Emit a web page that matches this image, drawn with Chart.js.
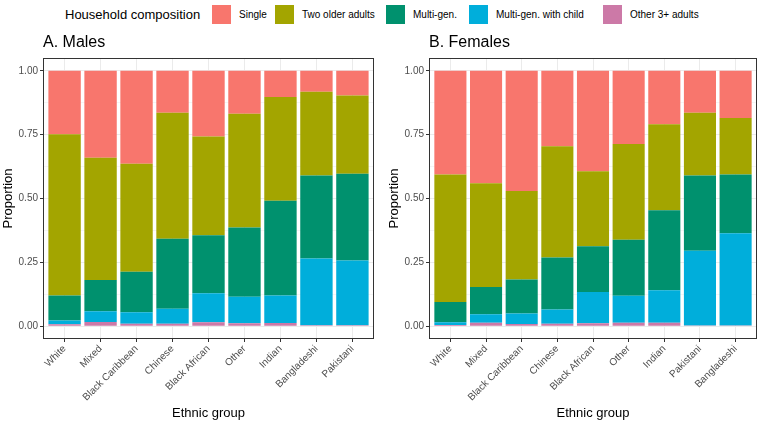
<!DOCTYPE html>
<html>
<head>
<meta charset="utf-8">
<script src="https://cdn.jsdelivr.net/npm/chart.js@4.4.1/dist/chart.umd.min.js"></script>
<style>
  html, body { margin:0; padding:0; background:#ffffff; }
  body { width:760px; height:424px; position:relative; overflow:hidden; font-family:"Liberation Sans", Arial, sans-serif; }
  #legend { position:absolute; left:0; top:0; width:760px; height:30px; }
  #legend .t { position:absolute; top:7px; font-size:13px; color:#000; white-space:nowrap; }
  #legend .sw { position:absolute; top:5px; width:19px; height:19px; }
  #legend .lb { position:absolute; top:9px; font-size:10px; color:#000; white-space:nowrap; }
  .wrap { position:absolute; top:30px; height:394px; }
  .ptitle { position:absolute; top:33px; font-size:16px; color:#000; white-space:nowrap; }
</style>
</head>
<body>
<div id="legend"></div>
<div class="wrap" style="left:0;width:381px;"><canvas id="cA"></canvas></div>
<div class="wrap" style="left:386px;width:374px;"><canvas id="cB"></canvas></div>
<div class="ptitle" style="left:43px;">A. Males</div>
<div class="ptitle" style="left:429px;">B. Females</div>
<script>
// ---- data ----
const seriesNames = ["Single", "Two older adults", "Multi-gen.", "Multi-gen. with child", "Other 3+ adults"];
const seriesColors = ["#F8766D", "#A3A500", "#00916E", "#00AEDB", "#CC79A7"];

const maleGroups = ["White", "Mixed", "Black Caribbean", "Chinese", "Black African", "Other", "Indian", "Bangladeshi", "Pakistani"];
const maleSingle    = [0.248, 0.340, 0.364, 0.164, 0.257, 0.168, 0.103, 0.082, 0.097];
const maleTwoOlder  = [0.632, 0.479, 0.423, 0.494, 0.387, 0.446, 0.406, 0.328, 0.306];
const maleMultiGen  = [0.098, 0.122, 0.158, 0.274, 0.227, 0.271, 0.371, 0.325, 0.340];
const maleMultiChild= [0.014, 0.042, 0.045, 0.058, 0.113, 0.103, 0.107, 0.261, 0.253];
const maleOther3    = [0.008, 0.017, 0.010, 0.010, 0.016, 0.012, 0.013, 0.004, 0.004];

const femaleGroups = ["White", "Mixed", "Black Caribbean", "Chinese", "Black African", "Other", "Indian", "Pakistani", "Bangladeshi"];
const femaleSingle    = [0.406, 0.440, 0.471, 0.295, 0.393, 0.287, 0.209, 0.164, 0.185];
const femaleTwoOlder  = [0.499, 0.406, 0.346, 0.436, 0.294, 0.374, 0.337, 0.246, 0.221];
const femaleMultiGen  = [0.079, 0.107, 0.133, 0.204, 0.179, 0.220, 0.313, 0.295, 0.230];
const femaleMultiChild= [0.011, 0.033, 0.041, 0.055, 0.122, 0.105, 0.127, 0.292, 0.361];
const femaleOther3    = [0.005, 0.014, 0.009, 0.010, 0.012, 0.014, 0.014, 0.003, 0.003];

const yTicks = [0, 0.125, 0.25, 0.375, 0.5, 0.625, 0.75, 0.875, 1];
const yMajor = [0, 0.25, 0.5, 0.75, 1];

// ---- legend (HTML) ----
(function(){
  const lg = document.getElementById('legend');
  const title = document.createElement('div');
  title.className = 't'; title.style.left = '65px'; title.textContent = 'Household composition';
  lg.appendChild(title);
  const swX = [212, 275, 386, 469, 603];
  seriesNames.forEach((n, i) => {
    const s = document.createElement('div');
    s.className = 'sw'; s.style.left = swX[i] + 'px'; s.style.background = seriesColors[i];
    lg.appendChild(s);
    const l = document.createElement('div');
    l.className = 'lb'; l.style.left = (swX[i] + 27) + 'px'; l.textContent = n;
    lg.appendChild(l);
  });
})();

const borderPlugin = {
  id: 'panelBorder',
  afterDatasetsDraw(chart) {
    const a = chart.chartArea, c = chart.ctx;
    c.save();
    c.strokeStyle = '#333333'; c.lineWidth = 1;
    c.strokeRect(Math.round(a.left) + 0.5, Math.round(a.top) + 0.5, Math.round(a.right - a.left) - 1, Math.round(a.bottom - a.top) - 1);
    c.restore();
  }
};

function isMajor(v) { return yMajor.some(m => Math.abs(m - v) < 1e-9); }

function makeChart(id, groups, single, two, mg, mgc, oth, padRight) {
  const seriesData = [oth, mgc, mg, two, single];
  const seriesIdx = [4, 3, 2, 1, 0];
  const datasets = seriesData.map((arr, k) => ({
    label: seriesNames[seriesIdx[k]],
    data: arr.map((v, i) => ({ x: i + 1, y: v })),
    backgroundColor: seriesColors[seriesIdx[k]],
    borderWidth: 0,
    barPercentage: 0.9,
    categoryPercentage: 1.0
  }));
  return new Chart(document.getElementById(id), {
    type: 'bar',
    data: { datasets },
    plugins: [borderPlugin],
    options: {
      responsive: true,
      maintainAspectRatio: false,
      animation: false,
      layout: { padding: { left: 0, right: padRight, top: 28, bottom: 0 } },
      plugins: {
        legend: { display: false },
        tooltip: { enabled: false },
        title: { display: false }
      },
      scales: {
        x: {
          type: 'linear', stacked: true, min: 0.4, max: 9.6, offset: false,
          afterBuildTicks(s) { s.ticks = groups.map((g, i) => ({ value: i + 1 })); },
          afterFit(s) { s.height = 85; },
          ticks: {
            callback: (v) => groups[Math.round(v) - 1] || '',
            color: '#4D4D4D', font: { family: '"Liberation Sans", Arial, sans-serif', size: 10 },
            minRotation: 45, maxRotation: 45, autoSkip: false, padding: 1
          },
          grid: { offset: false, color: '#EBEBEB', lineWidth: 1, tickColor: '#333333', tickLength: 3, drawTicks: true },
          border: { display: false },
          title: { display: true, text: 'Ethnic group', color: '#000', font: { family: '"Liberation Sans", Arial, sans-serif', size: 13 }, padding: { top: 0, bottom: 3 } }
        },
        y: {
          stacked: true, min: -0.05, max: 1.05,
          afterBuildTicks(s) { s.ticks = yTicks.map(v => ({ value: v })); },
          afterFit(s) { s.width = 43; },
          ticks: {
            callback: (v) => isMajor(v) ? v.toFixed(2) : '',
            color: '#4D4D4D', font: { family: '"Liberation Sans", Arial, sans-serif', size: 10 },
            padding: 2, autoSkip: false
          },
          grid: {
            color: '#EBEBEB',
            lineWidth: (c) => (c.tick && isMajor(c.tick.value)) ? 1 : 0.5,
            tickColor: (c) => (c.tick && isMajor(c.tick.value)) ? '#333333' : 'rgba(0,0,0,0)',
            tickLength: 3
          },
          border: { display: false },
          title: { display: true, text: 'Proportion', color: '#000', font: { family: '"Liberation Sans", Arial, sans-serif', size: 13 }, padding: { top: 1, bottom: 2 } }
        }
      }
    }
  });
}

makeChart('cA', maleGroups, maleSingle, maleTwoOlder, maleMultiGen, maleMultiChild, maleOther3, 7);
makeChart('cB', femaleGroups, femaleSingle, femaleTwoOlder, femaleMultiGen, femaleMultiChild, femaleOther3, 3);
</script>
</body>
</html>
